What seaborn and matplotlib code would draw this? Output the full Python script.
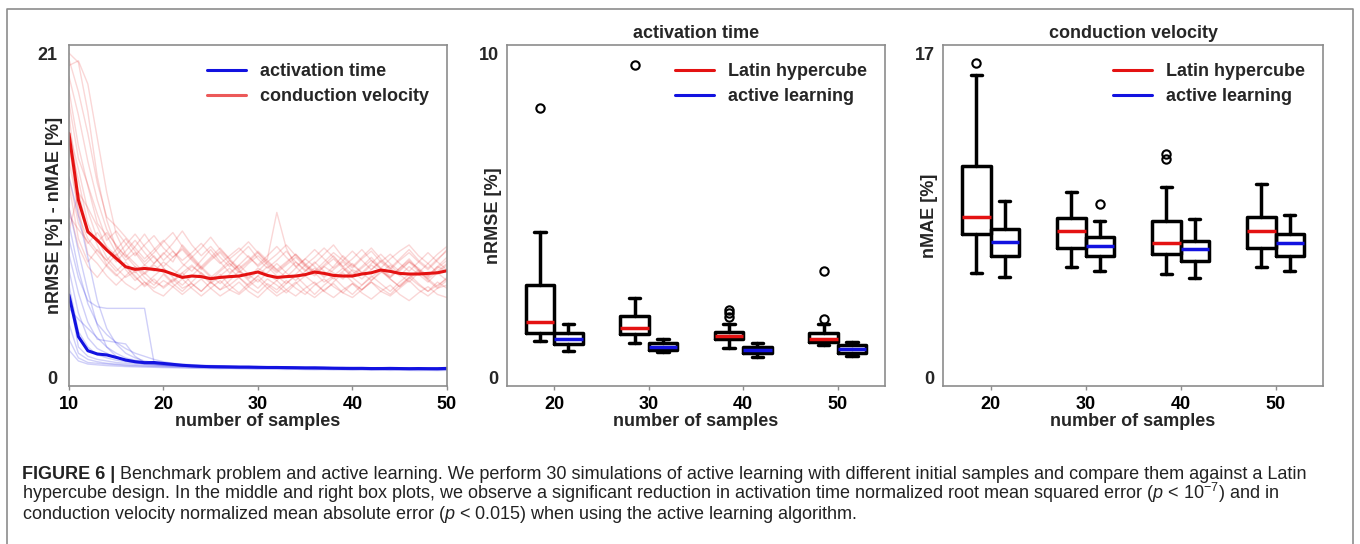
import numpy as np
import pandas as pd
import seaborn as sns
import matplotlib.pyplot as plt
from matplotlib.lines import Line2D

# ---- left panel: error vs number of samples ----
samples = list(range(10, 51))

at_mean = [5.36, 2.67, 1.76, 1.55, 1.49, 1.33, 1.16, 1.05, 0.99, 1.00, 0.94,
           0.88, 0.82, 0.78, 0.75, 0.73, 0.72, 0.71, 0.70, 0.70, 0.69,
           0.68, 0.68, 0.67, 0.66, 0.65, 0.65, 0.64, 0.63, 0.62, 0.62,
           0.62, 0.61, 0.61, 0.62, 0.61, 0.60, 0.61, 0.60, 0.60, 0.62]

cv_mean = [15.8, 11.5, 9.45, 8.9, 8.27, 7.73, 7.19, 7.02, 7.08, 7.02, 6.93,
           6.72, 6.50, 6.59, 6.55, 6.42, 6.50, 6.55, 6.59, 6.72, 6.85,
           6.63, 6.50, 6.55, 6.59, 6.68, 6.85, 6.76, 6.63, 6.59, 6.59,
           6.72, 6.80, 6.98, 6.89, 6.76, 6.72, 6.72, 6.76, 6.80, 6.93]

# some of the individual runs (faint lines)
cv_runs = [
    [21.0, 20.4, 17.2, 13.0, 10.2, 8.4, 7.6, 8.1, 7.3, 6.9, 7.5,
     7.0, 6.6, 7.2, 6.8, 6.3, 6.9, 7.4, 6.9, 6.5, 7.1,
     6.7, 6.3, 6.9, 7.5, 7.0, 6.6, 7.2, 6.8, 6.4, 7.0,
     6.7, 7.3, 6.9, 6.5, 7.1, 7.6, 7.0, 6.6, 7.2, 6.9],
    [20.2, 20.5, 19.0, 15.5, 12.0, 9.3, 8.0, 7.4, 6.8, 7.4, 8.1,
     7.5, 8.6, 7.9, 7.2, 7.8, 8.4, 7.7, 7.1, 7.6, 8.2,
     7.6, 7.0, 7.5, 8.0, 7.4, 6.9, 7.5, 8.1, 7.6, 7.1,
     7.7, 8.2, 7.5, 7.0, 7.6, 8.1, 7.5, 7.0, 7.6, 8.3],
    [18.6, 15.0, 12.4, 10.0, 9.2, 8.1, 7.0, 6.3, 6.8, 6.2, 5.9,
     6.4, 5.8, 6.1, 5.6, 6.2, 5.7, 6.0, 6.5, 5.9, 5.5,
     6.1, 5.7, 6.3, 5.8, 5.4, 6.0, 6.4, 5.9, 5.5, 6.1,
     5.7, 6.2, 5.8, 5.4, 6.0, 6.5, 6.0, 5.6, 6.2, 5.8],
    [17.0, 12.0, 9.6, 8.8, 9.4, 8.6, 7.8, 8.5, 9.3, 8.4, 7.6,
     8.2, 7.4, 6.9, 7.6, 8.3, 7.5, 6.8, 7.3, 7.9, 7.2,
     7.7, 10.7, 8.4, 7.2, 6.6, 7.1, 6.5, 7.0, 7.5, 6.9,
     6.4, 7.0, 7.6, 7.1, 6.6, 7.2, 6.7, 6.2, 6.8, 7.3],
    [16.0, 13.5, 10.8, 9.0, 7.8, 7.1, 6.5, 6.9, 6.2, 5.8, 6.3,
     5.9, 5.4, 5.9, 6.4, 5.8, 5.3, 5.7, 6.2, 5.6, 5.2,
     5.8, 6.3, 5.7, 5.3, 5.8, 6.2, 5.6, 5.2, 5.7, 6.1,
     5.5, 5.1, 5.6, 6.0, 5.4, 5.0, 5.5, 5.9, 5.4, 5.2],
    [15.2, 10.5, 9.0, 8.2, 7.6, 8.3, 9.0, 8.2, 7.5, 8.1, 8.8,
     9.4, 8.5, 7.8, 8.4, 9.1, 8.3, 7.7, 8.2, 8.8, 8.1,
     7.5, 8.0, 8.6, 7.9, 7.3, 7.8, 8.4, 7.8, 7.2, 7.7,
     8.3, 7.6, 7.1, 7.7, 8.2, 8.6, 7.9, 7.4, 8.0, 8.5],
    [14.0, 11.0, 8.0, 7.4, 6.6, 6.0, 6.6, 7.2, 6.5, 6.0, 6.7,
     6.1, 5.6, 6.2, 6.8, 6.2, 5.7, 6.3, 6.9, 6.3, 5.8,
     6.4, 6.0, 5.5, 6.1, 6.6, 6.1, 5.6, 6.2, 6.8, 6.2,
     5.7, 6.3, 6.9, 6.4, 5.9, 6.5, 7.0, 6.4, 5.9, 6.5],
    [12.5, 9.0, 7.5, 8.3, 7.6, 6.9, 7.5, 6.8, 7.3, 7.9, 7.1,
     6.6, 7.2, 7.8, 7.1, 6.5, 7.0, 7.6, 7.0, 6.4, 6.9,
     7.5, 7.0, 6.5, 7.1, 7.7, 7.2, 6.6, 7.2, 7.9, 7.3,
     6.8, 7.4, 8.0, 7.4, 6.9, 7.5, 7.1, 6.6, 7.2, 7.8],
    [11.0, 8.5, 7.2, 6.5, 7.3, 8.0, 7.2, 6.6, 5.9, 6.4, 5.8,
     6.3, 6.8, 6.1, 5.6, 6.2, 6.7, 6.0, 5.5, 6.1, 6.6,
     6.0, 5.5, 6.1, 6.6, 6.0, 5.4, 6.0, 6.5, 5.9, 5.4,
     6.0, 6.6, 6.1, 5.6, 6.2, 6.7, 6.1, 5.6, 6.0, 6.4],
    [9.5, 12.0, 11.0, 9.8, 8.4, 7.5, 8.2, 8.9, 8.1, 7.4, 8.0,
     8.7, 9.5, 8.6, 7.9, 8.5, 7.8, 7.2, 7.9, 8.5, 7.7,
     7.1, 7.6, 8.2, 7.5, 6.9, 7.4, 8.0, 8.6, 7.8, 7.2,
     7.8, 8.4, 7.7, 7.1, 7.7, 8.3, 7.6, 7.1, 7.7, 8.2],
    [19.5, 17.0, 14.0, 11.5, 9.6, 8.5, 7.9, 7.2, 6.7, 7.3, 6.8,
     6.2, 6.8, 7.3, 6.7, 6.1, 6.6, 7.1, 6.5, 6.0, 6.6,
     7.2, 6.6, 6.1, 6.7, 7.3, 6.8, 6.2, 6.6, 7.1, 6.5,
     6.0, 6.5, 7.0, 6.4, 5.9, 6.4, 6.9, 6.3, 5.8, 6.3],
    [17.8, 14.2, 12.5, 10.6, 8.9, 9.5, 8.7, 7.9, 8.6, 9.2, 8.4,
     7.8, 8.3, 7.6, 7.0, 7.6, 8.1, 7.4, 6.8, 7.4, 7.9,
     7.3, 6.8, 7.3, 7.8, 7.2, 6.7, 7.2, 7.7, 7.1, 6.6,
     7.1, 7.6, 7.0, 6.5, 7.0, 7.5, 6.9, 6.4, 6.9, 7.4],
    [15.5, 12.8, 10.0, 8.6, 7.3, 6.7, 6.1, 5.7, 6.2, 5.6, 5.3,
     5.9, 6.4, 5.8, 5.3, 5.8, 6.3, 5.7, 5.4, 5.9, 6.4,
     5.8, 5.3, 5.7, 6.2, 5.6, 5.2, 5.7, 6.1, 5.5, 5.2,
     5.7, 6.2, 5.6, 5.3, 5.8, 6.3, 5.7, 5.3, 5.8, 6.0],
    [13.0, 10.0, 8.7, 9.4, 8.5, 7.9, 8.6, 9.3, 8.5, 7.8, 7.2,
     7.8, 8.4, 7.7, 7.1, 7.7, 8.2, 7.6, 7.0, 7.5, 8.1,
     7.4, 6.9, 7.4, 8.0, 7.3, 6.8, 7.3, 7.9, 7.2, 6.7,
     7.2, 7.8, 7.1, 6.6, 7.1, 7.7, 7.0, 6.5, 7.1, 7.6],
    [10.5, 9.6, 8.8, 8.0, 7.2, 6.6, 7.2, 6.5, 6.0, 6.6, 7.1,
     6.5, 6.0, 6.6, 7.2, 6.6, 6.1, 6.7, 7.3, 6.7, 6.2,
     6.8, 7.4, 6.8, 6.3, 6.9, 7.5, 6.9, 6.4, 6.9, 7.4,
     6.8, 6.3, 6.8, 7.3, 6.7, 6.2, 6.8, 7.4, 6.8, 6.3],
    [20.6, 18.5, 15.8, 12.6, 10.4, 9.8, 9.1, 8.4, 7.7, 8.3, 8.9,
     8.2, 7.6, 8.1, 8.7, 8.0, 7.4, 7.9, 8.4, 7.8, 7.3,
     7.9, 8.5, 7.8, 7.2, 7.7, 8.3, 7.7, 7.1, 7.6, 8.2,
     7.6, 7.0, 7.5, 8.0, 7.4, 6.9, 7.5, 8.1, 7.5, 7.0],
]

at_runs = [
    [11.0, 8.2, 5.6, 3.4, 2.0, 1.4, 1.1, 1.0, 0.90, 0.85, 0.80,
     0.78, 0.75, 0.74, 0.72, 0.70, 0.71, 0.69, 0.68, 0.70, 0.67,
     0.66, 0.67, 0.65, 0.64, 0.66, 0.63, 0.62, 0.63, 0.61, 0.60,
     0.62, 0.60, 0.59, 0.61, 0.60, 0.58, 0.60, 0.59, 0.58, 0.60],
    [9.0, 6.5, 5.0, 4.6, 4.5, 4.5, 4.5, 4.5, 4.5, 1.0, 0.92,
     0.86, 0.82, 0.80, 0.78, 0.76, 0.77, 0.74, 0.73, 0.74, 0.72,
     0.71, 0.70, 0.71, 0.69, 0.68, 0.69, 0.67, 0.66, 0.67, 0.65,
     0.66, 0.64, 0.65, 0.66, 0.64, 0.63, 0.64, 0.62, 0.63, 0.64],
    [7.0, 4.2, 2.6, 1.9, 1.6, 1.3, 1.2, 1.1, 0.95, 0.90, 0.85,
     0.82, 0.80, 0.76, 0.75, 0.74, 0.72, 0.73, 0.71, 0.70, 0.71,
     0.69, 0.68, 0.69, 0.67, 0.66, 0.67, 0.65, 0.66, 0.64, 0.63,
     0.64, 0.62, 0.63, 0.61, 0.62, 0.60, 0.61, 0.62, 0.60, 0.61],
    [5.5, 2.0, 1.4, 1.2, 1.1, 1.0, 0.95, 0.90, 0.88, 0.85, 0.82,
     0.78, 0.76, 0.75, 0.73, 0.72, 0.70, 0.69, 0.70, 0.68, 0.67,
     0.68, 0.66, 0.65, 0.64, 0.65, 0.63, 0.62, 0.61, 0.62, 0.60,
     0.61, 0.59, 0.60, 0.58, 0.59, 0.58, 0.57, 0.58, 0.57, 0.58],
    [4.5, 3.8, 3.2, 2.6, 2.0, 1.6, 1.3, 1.15, 1.05, 0.95, 0.90,
     0.88, 0.84, 0.82, 0.80, 0.78, 0.79, 0.76, 0.75, 0.74, 0.73,
     0.72, 0.73, 0.71, 0.70, 0.69, 0.70, 0.68, 0.67, 0.68, 0.66,
     0.67, 0.65, 0.66, 0.64, 0.65, 0.63, 0.64, 0.65, 0.63, 0.64],
    [3.5, 1.6, 1.2, 1.05, 0.95, 0.90, 0.86, 0.82, 0.80, 0.78, 0.76,
     0.74, 0.72, 0.71, 0.70, 0.68, 0.67, 0.68, 0.66, 0.65, 0.64,
     0.65, 0.63, 0.62, 0.63, 0.61, 0.60, 0.61, 0.59, 0.60, 0.58,
     0.59, 0.57, 0.58, 0.56, 0.57, 0.56, 0.55, 0.56, 0.55, 0.56],
    [2.5, 1.3, 1.0, 0.95, 0.90, 0.85, 0.80, 0.78, 0.76, 0.74, 0.72,
     0.70, 0.69, 0.67, 0.66, 0.65, 0.64, 0.63, 0.64, 0.62, 0.61,
     0.60, 0.61, 0.59, 0.58, 0.59, 0.57, 0.56, 0.57, 0.55, 0.54,
     0.55, 0.53, 0.54, 0.52, 0.53, 0.52, 0.51, 0.52, 0.50, 0.51],
    [1.8, 1.1, 0.9, 0.85, 0.80, 0.77, 0.74, 0.72, 0.70, 0.69, 0.67,
     0.66, 0.64, 0.63, 0.62, 0.61, 0.60, 0.61, 0.59, 0.58, 0.57,
     0.58, 0.56, 0.55, 0.56, 0.54, 0.53, 0.54, 0.52, 0.53, 0.51,
     0.52, 0.50, 0.51, 0.49, 0.50, 0.49, 0.48, 0.49, 0.48, 0.49],
    [13.0, 10.5, 7.8, 5.0, 3.2, 2.2, 1.6, 1.3, 1.1, 1.0, 0.92,
     0.88, 0.85, 0.82, 0.80, 0.79, 0.77, 0.76, 0.75, 0.74, 0.73,
     0.72, 0.71, 0.70, 0.71, 0.69, 0.68, 0.69, 0.67, 0.66, 0.67,
     0.66, 0.65, 0.64, 0.65, 0.63, 0.64, 0.62, 0.63, 0.62, 0.63],
    [8.0, 5.5, 3.6, 2.5, 2.4, 2.3, 2.2, 1.4, 1.0, 0.92, 0.88,
     0.84, 0.82, 0.80, 0.78, 0.77, 0.75, 0.74, 0.73, 0.72, 0.71,
     0.70, 0.69, 0.70, 0.68, 0.67, 0.66, 0.67, 0.65, 0.64, 0.65,
     0.63, 0.64, 0.62, 0.63, 0.61, 0.62, 0.60, 0.61, 0.60, 0.61],
    [6.0, 3.0, 2.0, 1.5, 1.3, 1.15, 1.05, 0.98, 0.92, 0.88, 0.84,
     0.80, 0.78, 0.77, 0.75, 0.74, 0.72, 0.71, 0.72, 0.70, 0.69,
     0.68, 0.69, 0.67, 0.66, 0.67, 0.65, 0.64, 0.65, 0.63, 0.62,
     0.63, 0.61, 0.62, 0.60, 0.61, 0.59, 0.60, 0.59, 0.58, 0.59],
    [10.0, 7.0, 4.8, 3.5, 2.8, 2.3, 1.9, 1.6, 1.4, 1.2, 1.05,
     0.95, 0.90, 0.86, 0.83, 0.81, 0.79, 0.78, 0.76, 0.75, 0.74,
     0.73, 0.72, 0.73, 0.71, 0.70, 0.71, 0.69, 0.68, 0.69, 0.67,
     0.68, 0.66, 0.67, 0.65, 0.66, 0.64, 0.65, 0.64, 0.63, 0.64],
]

# ---- box plots: five-number summaries + outliers ----
groups = [20, 30, 40, 50]

at_lhs_low = [1.15, 1.07, 0.91, 1.02]
at_lhs_q1 = [1.39, 1.34, 1.20, 1.10]
at_lhs_med = [1.73, 1.55, 1.30, 1.21]
at_lhs_q3 = [2.86, 1.91, 1.42, 1.39]
at_lhs_high = [4.50, 2.47, 1.66, 1.65]
at_lhs_out = [[8.30], [9.63], [1.89, 1.99, 2.09], [1.80, 3.29]]

at_al_low = [0.84, 0.79, 0.63, 0.68]
at_al_q1 = [1.05, 0.86, 0.78, 0.78]
at_al_med = [1.21, 0.96, 0.86, 0.88]
at_al_q3 = [1.37, 1.07, 0.96, 1.02]
at_al_high = [1.65, 1.20, 1.09, 1.12]
at_al_out = [[], [], [], []]

cv_lhs_low = [5.47, 5.82, 5.42, 5.79]
cv_lhs_q1 = [7.53, 6.78, 6.47, 6.78]
cv_lhs_med = [8.44, 7.70, 7.04, 7.70]
cv_lhs_q3 = [11.09, 8.38, 8.23, 8.40]
cv_lhs_high = [15.85, 9.71, 10.00, 10.15]
cv_lhs_out = [[16.46], [], [11.45, 11.72], []]

cv_al_low = [5.30, 5.61, 5.25, 5.60]
cv_al_q1 = [6.38, 6.38, 6.14, 6.38]
cv_al_med = [7.11, 6.92, 6.73, 7.04]
cv_al_q3 = [7.81, 7.39, 7.18, 7.52]
cv_al_high = [9.26, 8.23, 8.30, 8.52]
cv_al_out = [[], [9.08], [], []]

RED = '#e41212'
BLUE = '#1212e0'

sns.set_theme(style='white', rc={
    'axes.edgecolor': '#8c8c8c',
    'axes.linewidth': 1.2,
    'xtick.bottom': True,
    'xtick.major.size': 3,
    'xtick.major.width': 1.0,
    'xtick.color': '#8c8c8c',
    'xtick.labelcolor': 'black',
    'ytick.left': False,
    'ytick.major.size': 0,
    'font.weight': 'bold',
    'axes.labelweight': 'bold',
    'axes.titleweight': 'bold',
})
plt.rcParams['font.family'] = ['Liberation Sans', 'DejaVu Sans']
plt.rcParams['mathtext.fontset'] = 'custom'
plt.rcParams['mathtext.rm'] = 'Liberation Sans:weight=normal'
plt.rcParams['mathtext.it'] = 'Liberation Sans:italic:weight=normal'

FS = 13
LW = 2.5

fig = plt.figure(figsize=(13.6, 5.44), dpi=100)
ax1 = fig.add_axes([0.0507, 0.2904, 0.2779, 0.6268])
ax2 = fig.add_axes([0.3728, 0.2904, 0.2779, 0.6268])
ax3 = fig.add_axes([0.6934, 0.2904, 0.2794, 0.6268])

# ---- left panel ----
rows = []
for i, run in enumerate(cv_runs):
    for s, v in zip(samples, run):
        rows.append(('cv', i, s, v))
for i, run in enumerate(at_runs):
    for s, v in zip(samples, run):
        rows.append(('at', i, s, v))
runs = pd.DataFrame(rows, columns=['kind', 'run', 'samples', 'value'])

sns.lineplot(data=runs[runs.kind == 'cv'], x='samples', y='value', units='run',
             estimator=None, color=RED, alpha=0.17, lw=1.0, ax=ax1, legend=False)
sns.lineplot(data=runs[runs.kind == 'at'], x='samples', y='value', units='run',
             estimator=None, color=BLUE, alpha=0.2, lw=1.0, ax=ax1, legend=False)
sns.lineplot(x=samples, y=cv_mean, color=RED, lw=2.2, ax=ax1)
sns.lineplot(x=samples, y=at_mean, color=BLUE, lw=2.2, ax=ax1)

ax1.set_xlim(10, 50)
ax1.set_ylim(-0.52, 21.52)
ax1.set_xticks([10, 20, 30, 40, 50])
ax1.set_yticks([0, 21])
ax1.set_xlabel('number of samples', fontsize=FS, labelpad=0)
ax1.set_ylabel('nRMSE [%] - nMAE [%]', fontsize=FS)
ax1.yaxis.set_label_coords(-0.016, 0.5)
ax1.tick_params(axis='x', labelsize=FS, pad=4)
ax1.tick_params(axis='y', labelsize=FS, pad=8)
h1 = [Line2D([], [], color=BLUE, lw=2.2), Line2D([], [], color=RED, lw=2.2, alpha=0.7)]
ax1.legend(h1, ['activation time', 'conduction velocity'], loc='upper right',
           frameon=False, fontsize=FS, handlelength=2.15, handletextpad=0.75,
           labelspacing=0.45, borderaxespad=0.6)


def draw_boxes(ax, low, q1, med, q3, high, out, offset, color):
    stats = []
    for i in range(len(groups)):
        stats.append({'whislo': low[i], 'q1': q1[i], 'med': med[i], 'q3': q3[i],
                      'whishi': high[i], 'fliers': out[i]})
    pos = [i + offset for i in range(len(groups))]
    ax.bxp(stats, positions=pos, widths=0.3, capwidths=0.12, manage_ticks=False,
           boxprops=dict(color='black', lw=LW),
           whiskerprops=dict(color='black', lw=LW),
           capprops=dict(color='black', lw=LW),
           medianprops=dict(color=color, lw=LW),
           flierprops=dict(marker='o', mfc='none', mec='black', ms=6, mew=1.5))


def style_box_axis(ax, top, pad_frac, title, ylabel):
    ax.set_xlim(-0.5, 3.5)
    ax.set_ylim(-pad_frac, top + pad_frac)
    ax.set_xticks(range(len(groups)))
    ax.set_xticklabels([str(g) for g in groups])
    ax.set_yticks([0, top])
    ax.set_title(title, fontsize=FS, pad=5)
    ax.set_xlabel('number of samples', fontsize=FS, labelpad=0)
    ax.set_ylabel(ylabel, fontsize=FS)
    ax.yaxis.set_label_coords(-0.012, 0.5)
    ax.tick_params(axis='x', labelsize=FS, pad=4)
    ax.tick_params(axis='y', labelsize=FS, pad=6)
    hh = [Line2D([], [], color=RED, lw=2.2), Line2D([], [], color=BLUE, lw=2.2)]
    ax.legend(hh, ['Latin hypercube', 'active learning'], loc='upper right',
              frameon=False, fontsize=FS, handlelength=2.2, handletextpad=0.75,
              labelspacing=0.45, borderaxespad=0.6)


draw_boxes(ax2, at_lhs_low, at_lhs_q1, at_lhs_med, at_lhs_q3, at_lhs_high, at_lhs_out, -0.15, RED)
draw_boxes(ax2, at_al_low, at_al_q1, at_al_med, at_al_q3, at_al_high, at_al_out, 0.15, BLUE)
style_box_axis(ax2, 10, 0.25, 'activation time', 'nRMSE [%]')

draw_boxes(ax3, cv_lhs_low, cv_lhs_q1, cv_lhs_med, cv_lhs_q3, cv_lhs_high, cv_lhs_out, -0.15, RED)
draw_boxes(ax3, cv_al_low, cv_al_q1, cv_al_med, cv_al_q3, cv_al_high, cv_al_out, 0.15, BLUE)
style_box_axis(ax3, 17, 0.42, 'conduction velocity', 'nMAE [%]')

# outer frame of the figure box (top, left, right)
fig.add_artist(Line2D([0.0051, 0.0051, 0.9952, 0.9952], [0.0, 0.9835, 0.9835, 0.0],
                      transform=fig.transFigure, color='#8c8c8c', lw=1.2))

# caption
CFS = 13
cap_kw = dict(fontsize=CFS, fontweight='normal', color='#222222', va='baseline', ha='left')
t1 = fig.text(22 / 1360, 1 - 479 / 544, 'FIGURE 6 |', fontsize=CFS, fontweight='bold',
              color='#222222', va='baseline', ha='left')
ax1.annotate(' Benchmark problem and active learning. We perform 30 simulations of active '
             'learning with different initial samples and compare them against a Latin',
             xy=(1, 1 - 479 / 544), xycoords=(t1, 'figure fraction'),
             annotation_clip=False, **cap_kw)
fig.text(22 / 1360, 1 - 499 / 544,
         'hypercube design. In the middle and right box plots, we observe a significant '
         'reduction in activation time normalized root mean squared error '
         '($p$ < 10$^{-7}$) and in', **cap_kw)
fig.text(22 / 1360, 1 - 519 / 544,
         'conduction velocity normalized mean absolute error ($p$ < 0.015) when using '
         'the active learning algorithm.', **cap_kw)

fig.savefig('out.png', dpi=100)
